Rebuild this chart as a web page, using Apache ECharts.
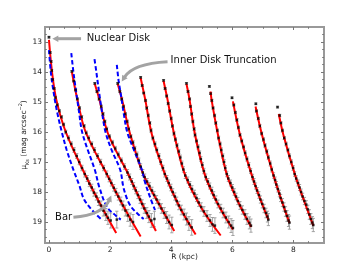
<!DOCTYPE html>
<html><head><meta charset="utf-8">
<script src="https://cdn.jsdelivr.net/npm/echarts@6/dist/echarts.min.js"></script>
<style>html,body{margin:0;padding:0;background:#fff}#c{width:360px;height:270px}</style>
</head><body><div id="c"></div>
<script>
// ---- tick values ----
const xMajor = [0, 2, 4, 6, 8];
const xMinor = [0.5, 1, 1.5, 2.5, 3, 3.5, 4.5, 5, 5.5, 6.5, 7, 7.5, 8.5];
const yMajor = [13, 14, 15, 16, 17, 18, 19];
const yMinor = [12.75, 13.25, 13.5, 13.75, 14.25, 14.5, 14.75, 15.25, 15.5, 15.75, 16.25, 16.5, 16.75,
  17.25, 17.5, 17.75, 18.25, 18.5, 18.75, 19.25, 19.5];

// ---- measured profiles [R (kpc), mu, err] ----
const prof1 = [[0.00,12.84,0.03],[0.04,13.35,0.03],[0.07,13.65,0.03],[0.09,13.95,0.03],[0.12,14.25,0.03],[0.17,14.55,0.03],[0.21,14.85,0.04],[0.27,15.1,0.05],[0.34,15.3,0.05],[0.41,15.5,0.05],[0.48,15.75,0.05],[0.55,16.0,0.06],[0.64,16.2,0.07],[0.73,16.4,0.07],[0.82,16.6,0.08],[0.91,16.8,0.08],[0.99,17.0,0.09],[1.08,17.2,0.09],[1.17,17.4,0.1],[1.25,17.55,0.1],[1.32,17.72,0.1],[1.40,17.85,0.11],[1.47,18.02,0.12],[1.55,18.15,0.12],[1.62,18.32,0.13],[1.70,18.45,0.15],[1.78,18.62,0.18],[1.86,18.75,0.2],[1.93,18.86,0.22],[2.02,18.95,0.25],[2.22,18.92,0.28]];
const prof2 = [[0.75,13.98,0.03],[0.81,14.3,0.03],[0.87,14.6,0.03],[0.93,14.9,0.04],[1.0,15.2,0.05],[1.07,15.5,0.05],[1.15,15.8,0.05],[1.22,16.03,0.06],[1.30,16.2,0.07],[1.40,16.4,0.07],[1.49,16.6,0.08],[1.59,16.8,0.08],[1.69,17.0,0.09],[1.79,17.2,0.09],[1.89,17.4,0.1],[1.97,17.56,0.1],[2.04,17.7,0.1],[2.12,17.86,0.11],[2.19,18.0,0.12],[2.27,18.15,0.12],[2.35,18.3,0.13],[2.42,18.45,0.15],[2.50,18.62,0.18],[2.58,18.78,0.2],[2.66,18.92,0.22],[2.75,19.0,0.25]];
const prof3 = [[1.50,14.38,0.03],[1.57,14.65,0.03],[1.64,14.9,0.04],[1.71,15.15,0.05],[1.77,15.4,0.05],[1.83,15.65,0.05],[1.89,15.9,0.06],[1.98,16.15,0.06],[2.08,16.35,0.07],[2.17,16.55,0.07],[2.27,16.75,0.08],[2.37,16.95,0.08],[2.47,17.15,0.09],[2.57,17.35,0.1],[2.64,17.5,0.1],[2.71,17.65,0.1],[2.77,17.8,0.11],[2.84,17.95,0.11],[2.91,18.1,0.12],[2.98,18.25,0.13],[3.05,18.4,0.14],[3.12,18.55,0.16],[3.20,18.7,0.18],[3.27,18.82,0.2],[3.35,18.95,0.23],[3.45,18.9,0.26]];
const prof4 = [[2.25,14.38,0.03],[2.32,14.65,0.03],[2.38,14.9,0.04],[2.44,15.15,0.05],[2.50,15.4,0.05],[2.56,15.65,0.05],[2.61,15.9,0.06],[2.68,16.15,0.06],[2.75,16.35,0.07],[2.81,16.55,0.07],[2.88,16.75,0.08],[2.94,16.95,0.08],[3.00,17.15,0.09],[3.07,17.35,0.1],[3.13,17.5,0.1],[3.21,17.65,0.1],[3.29,17.8,0.11],[3.37,17.95,0.11],[3.44,18.1,0.12],[3.52,18.25,0.13],[3.60,18.4,0.14],[3.68,18.55,0.16],[3.77,18.7,0.18],[3.85,18.85,0.2],[3.93,19.0,0.23],[4.02,19.1,0.26]];
const prof5 = [[3.00,14.18,0.03],[3.05,14.45,0.03],[3.10,14.7,0.03],[3.16,14.95,0.04],[3.20,15.2,0.05],[3.25,15.45,0.05],[3.30,15.7,0.05],[3.34,15.95,0.06],[3.40,16.2,0.06],[3.47,16.4,0.07],[3.53,16.6,0.07],[3.60,16.8,0.08],[3.66,17.0,0.08],[3.73,17.2,0.09],[3.79,17.4,0.1],[3.86,17.55,0.1],[3.92,17.7,0.1],[3.99,17.85,0.11],[4.05,18.0,0.11],[4.12,18.15,0.12],[4.18,18.3,0.13],[4.25,18.45,0.14],[4.33,18.6,0.16],[4.42,18.75,0.18],[4.50,18.9,0.2],[4.58,19.05,0.23],[4.67,19.18,0.26]];
const prof6 = [[3.75,14.28,0.03],[3.80,14.55,0.03],[3.85,14.8,0.04],[3.90,15.05,0.04],[3.95,15.3,0.05],[4.00,15.55,0.05],[4.04,15.8,0.05],[4.09,16.05,0.06],[4.14,16.25,0.06],[4.19,16.45,0.07],[4.25,16.65,0.07],[4.30,16.85,0.08],[4.35,17.05,0.08],[4.40,17.25,0.09],[4.46,17.45,0.1],[4.54,17.6,0.1],[4.61,17.75,0.1],[4.68,17.9,0.11],[4.76,18.05,0.11],[4.83,18.2,0.12],[4.90,18.35,0.13],[4.98,18.5,0.14],[5.07,18.65,0.16],[5.17,18.8,0.18],[5.27,18.95,0.2],[5.35,19.08,0.23],[5.43,19.12,0.26]];
const prof7 = [[4.50,14.38,0.03],[4.55,14.65,0.03],[4.60,14.9,0.04],[4.63,15.15,0.04],[4.67,15.4,0.05],[4.71,15.65,0.05],[4.75,15.9,0.05],[4.78,16.1,0.06],[4.83,16.3,0.06],[4.88,16.5,0.07],[4.93,16.7,0.07],[4.97,16.9,0.08],[5.02,17.1,0.08],[5.07,17.3,0.09],[5.13,17.5,0.1],[5.20,17.65,0.1],[5.26,17.8,0.1],[5.33,17.95,0.11],[5.39,18.1,0.11],[5.46,18.25,0.12],[5.53,18.4,0.13],[5.62,18.55,0.14],[5.70,18.7,0.16],[5.79,18.85,0.18],[5.88,19.0,0.2],[5.96,19.12,0.23],[6.02,19.2,0.25]];
const prof8 = [[5.25,14.48,0.03],[5.29,14.72,0.03],[5.33,14.95,0.04],[5.37,15.2,0.04],[5.42,15.45,0.05],[5.46,15.7,0.05],[5.51,15.95,0.05],[5.55,16.2,0.06],[5.60,16.4,0.06],[5.64,16.6,0.07],[5.69,16.8,0.07],[5.73,17.0,0.08],[5.77,17.2,0.08],[5.82,17.4,0.09],[5.87,17.55,0.1],[5.94,17.7,0.1],[6.00,17.85,0.1],[6.06,18.0,0.11],[6.12,18.15,0.11],[6.18,18.3,0.12],[6.25,18.45,0.13],[6.33,18.6,0.14],[6.41,18.75,0.16],[6.48,18.9,0.18],[6.56,19.03,0.2],[6.61,19.12,0.22]];
const prof9 = [[5.99,14.86,0.03],[6.05,15.1,0.04],[6.10,15.35,0.04],[6.15,15.6,0.05],[6.20,15.85,0.05],[6.25,16.1,0.05],[6.31,16.3,0.06],[6.37,16.5,0.06],[6.42,16.7,0.07],[6.48,16.9,0.07],[6.54,17.1,0.08],[6.60,17.3,0.08],[6.66,17.5,0.09],[6.71,17.65,0.1],[6.76,17.8,0.1],[6.81,17.95,0.1],[6.87,18.1,0.11],[6.92,18.25,0.12],[6.98,18.4,0.13],[7.04,18.55,0.14],[7.10,18.7,0.16],[7.15,18.82,0.18],[7.18,18.92,0.2]];
const prof10 = [[6.77,15.06,0.03],[6.79,15.3,0.04],[6.85,15.55,0.04],[6.90,15.8,0.05],[6.96,16.05,0.05],[7.02,16.25,0.06],[7.07,16.45,0.06],[7.13,16.65,0.07],[7.18,16.85,0.07],[7.24,17.05,0.08],[7.29,17.25,0.08],[7.35,17.45,0.09],[7.40,17.6,0.1],[7.44,17.75,0.1],[7.49,17.9,0.1],[7.54,18.05,0.11],[7.58,18.2,0.12],[7.64,18.35,0.13],[7.69,18.5,0.14],[7.74,18.65,0.16],[7.79,18.8,0.18],[7.84,18.95,0.2],[7.87,19.02,0.22]];
const prof11 = [[7.48,15.17,0.03],[7.55,15.45,0.04],[7.59,15.7,0.04],[7.64,15.95,0.05],[7.70,16.2,0.05],[7.76,16.4,0.06],[7.82,16.6,0.06],[7.87,16.8,0.07],[7.93,17.0,0.07],[7.99,17.2,0.08],[8.04,17.4,0.08],[8.09,17.55,0.09],[8.15,17.7,0.1],[8.20,17.85,0.1],[8.25,18.0,0.1],[8.30,18.15,0.11],[8.36,18.3,0.12],[8.42,18.42,0.13],[8.47,18.58,0.14],[8.52,18.75,0.16],[8.57,18.9,0.18],[8.62,19.02,0.2],[8.65,19.1,0.22]];

// ---- red model fits [R, mu] ----
const fit1 = [[0.0,12.93],[0.1,14.0],[0.24,14.92],[0.55,16.0],[1.15,17.35],[1.65,18.35],[2.2,19.37]];
const fit2 = [[0.75,14.0],[0.93,14.92],[1.2,16.0],[1.9,17.42],[2.45,18.5],[3.0,19.48]];
const fit3 = [[1.5,14.4],[1.65,14.92],[1.93,16.05],[2.6,17.42],[3.05,18.4],[3.5,19.3]];
const fit4 = [[2.25,14.4],[2.39,14.92],[2.65,16.05],[3.09,17.42],[3.6,18.4],[4.1,19.3]];
const fit5 = [[3.0,14.2],[3.15,14.92],[3.37,16.09],[3.8,17.42],[4.25,18.45],[4.8,19.42]];
const fit6 = [[3.75,14.3],[3.88,14.92],[4.1,16.09],[4.45,17.42],[5.0,18.55],[5.62,19.45]];
const fit7 = [[4.5,14.4],[4.6,14.92],[4.78,16.09],[5.1,17.42],[5.5,18.35],[6.02,19.25]];
const fit8 = [[5.29,14.65],[5.32,14.92],[5.53,16.09],[5.82,17.42],[6.2,18.35],[6.62,19.17]];
const fit9 = [[6.02,14.98],[6.25,16.09],[6.63,17.42],[6.9,18.2],[7.18,18.92]];
const fit10 = [[6.76,15.15],[6.97,16.09],[7.34,17.42],[7.6,18.25],[7.87,19.03]];
const fit11 = [[7.52,15.4],[7.67,16.09],[8.05,17.42],[8.35,18.3],[8.65,19.12]];

// ---- blue dashed bar models [R, mu] ----
const bar1 = [[0.0,13.27],[0.06,14.0],[0.14,14.6],[0.26,15.3],[0.42,16.0],[0.58,16.6],[0.8,17.26],[1.0,17.8],[1.15,18.25],[1.45,18.65],[1.75,18.95]];
const bar2 = [[0.73,13.37],[0.8,14.0],[0.88,14.6],[0.98,15.3],[1.08,15.98],[1.27,16.6],[1.5,17.26],[1.65,17.85],[1.9,18.5],[2.2,18.8],[2.35,18.92]];
const bar3 = [[1.49,13.57],[1.55,14.0],[1.63,14.6],[1.73,15.3],[1.85,16.0],[2.05,16.6],[2.33,17.26],[2.45,17.9],[2.66,18.45],[2.98,18.8],[3.1,18.9]];
const bar4 = [[2.22,13.76],[2.28,14.3],[2.36,14.8],[2.45,15.4],[2.56,16.0],[2.78,16.6],[3.04,17.26],[3.15,17.7],[3.3,18.15],[3.47,18.6]];

// ---- annotations (data coords) ----
const annNuclear = {text: 'Nuclear Disk', at: [1.24, 12.89], tail: [1.05, 12.89], head: [0.11, 12.89]};
const annInner = {text: 'Inner Disk Truncation', at: [3.98, 13.63], tail: [3.88, 13.66], ctrl: [2.75, 13.72], head: [2.38, 14.32]};
const annBar = {text: 'Bar', at: [0.2, 18.86], tail: [0.8, 18.84], ctrl: [1.75, 18.77], head: [2.04, 18.12]};

const profiles = [prof1, prof2, prof3, prof4, prof5, prof6, prof7, prof8, prof9, prof10, prof11];
const fits = [fit1, fit2, fit3, fit4, fit5, fit6, fit7, fit8, fit9, fit10, fit11];
const bars = [bar1, bar2, bar3, bar4];
const allPts = [].concat(...profiles);

const FONT = 'DejaVu Sans';
const AX = '#999';
const X0 = -0.13, X1 = 9.0, Y0 = 12.5, Y1 = 19.7;

function xAx(pos, vals, len, labels, extra) {
  return Object.assign({
    type: 'value', position: pos, min: X0, max: X1,
    axisLine: {show: true, onZero: false, lineStyle: {color: AX, width: 2}},
    axisTick: {show: true, inside: true, length: len, customValues: vals, lineStyle: {color: '#777', width: 1}},
    axisLabel: labels ? {customValues: vals, fontSize: 7.5, color: '#222', margin: 3, fontFamily: FONT} : {show: false},
    splitLine: {show: false}
  }, extra || {});
}
function yAx(pos, vals, len, labels, extra) {
  return Object.assign({
    type: 'value', position: pos, min: Y0, max: Y1, inverse: true,
    axisLine: {show: true, onZero: false, lineStyle: {color: AX, width: 2}},
    axisTick: {show: true, inside: true, length: len, customValues: vals, lineStyle: {color: '#777', width: 1}},
    axisLabel: labels ? {customValues: vals, fontSize: 7.5, color: '#222', margin: 3, fontFamily: FONT} : {show: false},
    splitLine: {show: false}
  }, extra || {});
}

const chart = echarts.init(document.getElementById('c'), null, {renderer: 'canvas'});

const series = [];
series.push({
  type: 'custom', name: 'err', xAxisIndex: 0, yAxisIndex: 0, z: 1,
  data: allPts, encode: {x: 0, y: 1},
  renderItem: function (params, api) {
    const r = api.value(0), m = api.value(1), e = api.value(2);
    const a = api.coord([r, m - e]), b = api.coord([r, m + e]);
    const w = 1.6;
    const st = {stroke: '#9a9a9a', lineWidth: 0.9};
    return {type: 'group', children: [
      {type: 'line', shape: {x1: a[0], y1: a[1], x2: b[0], y2: b[1]}, style: st},
      {type: 'line', shape: {x1: a[0] - w, y1: a[1], x2: a[0] + w, y2: a[1]}, style: st},
      {type: 'line', shape: {x1: b[0] - w, y1: b[1], x2: b[0] + w, y2: b[1]}, style: st}
    ]};
  },
  silent: true
});
fits.forEach(function (f) {
  series.push({type: 'line', data: f, smooth: 0.35, symbol: 'none', z: 2, silent: true,
    lineStyle: {color: '#ff0000', width: 2}});
});
bars.forEach(function (f) {
  series.push({type: 'line', data: f, smooth: 0.35, symbol: 'none', z: 3, silent: true,
    lineStyle: {color: '#0000ff', width: 2, type: [4.5, 2.5]}});
});
series.push({type: 'scatter', data: allPts.map(p => [p[0], p[1]]), symbol: 'rect', symbolSize: 2.5, z: 4, silent: true,
  itemStyle: {color: '#000'}});

chart.setOption({
  animation: false,
  backgroundColor: '#fff',
  grid: {left: 45, right: 36, top: 27, bottom: 27},
  xAxis: [
    xAx('bottom', xMajor, 3, true, {name: 'R (kpc)', nameLocation: 'middle', nameGap: 10.5, nameMoveOverlap: false,
      nameTextStyle: {fontSize: 7.5, color: '#222', fontFamily: FONT}}),
    xAx('bottom', xMinor, 1.8, false),
    xAx('top', xMajor, 3, false),
    xAx('top', xMinor, 1.8, false)
  ],
  yAxis: [
    yAx('left', yMajor, 3, true, {name: '{m|μ}{s|Ks} (mag arcsec{p|−2})', nameLocation: 'middle', nameGap: 14.5, nameMoveOverlap: false,
      nameTextStyle: {fontSize: 7.5, color: '#222', fontFamily: FONT,
        rich: {m: {fontSize: 7.5, fontFamily: FONT, color: '#222', lineHeight: 12},
               s: {fontSize: 5, fontFamily: FONT, color: '#222', lineHeight: 12, verticalAlign: 'bottom'},
               p: {fontSize: 5, fontFamily: FONT, color: '#222', lineHeight: 12, verticalAlign: 'top'}}}}),
    yAx('left', yMinor, 1.8, false),
    yAx('right', yMajor, 3, false),
    yAx('right', yMinor, 1.8, false)
  ],
  series: series
});

// annotations
function px(p) { return chart.convertToPixel({xAxisIndex: 0, yAxisIndex: 0}, p); }
function arrow(tail, ctrl, head) {
  const t = px(tail), h = px(head), c = ctrl ? px(ctrl) : [(t[0] + h[0]) / 2, (t[1] + h[1]) / 2];
  let dx = h[0] - c[0], dy = h[1] - c[1];
  const L = Math.hypot(dx, dy); dx /= L; dy /= L;
  const hl = 6, hw = 3.2;
  const base = [h[0] - dx * hl, h[1] - dy * hl];
  const col = '#a3a3a3';
  return [
    {type: 'bezierCurve', shape: {x1: t[0], y1: t[1], x2: base[0] + dx * 1, y2: base[1] + dy * 1, cpx1: c[0], cpy1: c[1]},
      style: {stroke: col, lineWidth: 3, fill: null}, z: 50},
    {type: 'polygon', shape: {points: [h, [base[0] - dy * hw, base[1] + dx * hw], [base[0] + dy * hw, base[1] - dx * hw]]},
      style: {fill: col}, z: 50}
  ];
}
function label(a, align) {
  const p = px(a.at);
  return {type: 'text', x: p[0], y: p[1], z: 51,
    style: {text: a.text, fontSize: 10, fontFamily: FONT, fill: '#111', align: align || 'left', verticalAlign: 'middle'}};
}
const g = [];
g.push(...arrow(annNuclear.tail, null, annNuclear.head), label(annNuclear));
g.push(...arrow(annInner.tail, annInner.ctrl, annInner.head), label(annInner));
g.push(...arrow(annBar.tail, annBar.ctrl, annBar.head), label(annBar));
chart.setOption({graphic: {elements: g}});
</script>
</body></html>
